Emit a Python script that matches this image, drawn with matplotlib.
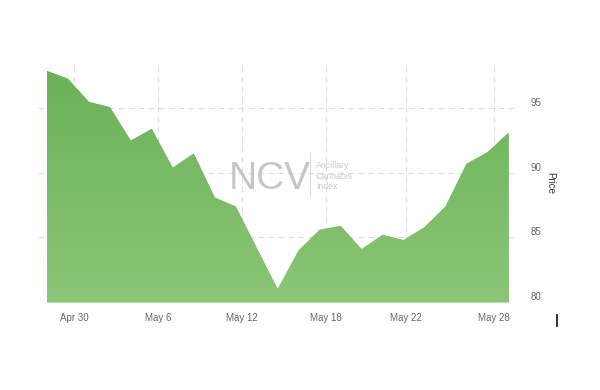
import numpy as np
import matplotlib.pyplot as plt
from matplotlib.colors import LinearSegmentedColormap
from matplotlib.lines import Line2D

plt.rcParams['font.family'] = ['Liberation Sans', 'DejaVu Sans']

# daily price of the index
price = [97.9, 97.3, 95.5, 95.1, 92.5, 93.4, 90.4, 91.5, 88.1, 87.4, 84.2, 81.0,
         84.0, 85.6, 85.9, 84.1, 85.2, 84.8, 85.8, 87.4, 90.7, 91.6, 93.1]
date_tick_pos = [1.3, 5.3, 9.3, 13.3, 17.13, 21.3]
date_labels = ["Apr 30", "May 6", "May 12", "May 18", "May 22", "May 28"]
price_ticks = [80, 85, 90, 95]

x = np.arange(len(price))

fig = plt.figure(figsize=(6, 3.9), dpi=100)
ax = fig.add_axes([0.0633, 0.2256, 0.80, 0.6129])

# area with a soft vertical gradient
area = ax.fill_between(x, price, 80, color='#79b865', lw=0, zorder=2)
grad = np.linspace(0, 1, 256).reshape(-1, 1)
cmap = LinearSegmentedColormap.from_list('g', ['#8ac676', '#6cb159'])
img = ax.imshow(grad, extent=[x[0], x[-1], 80, max(price)], origin='lower',
                cmap=cmap, aspect='auto', zorder=3)
img.set_clip_path(area.get_paths()[0], transform=ax.transData)

ax.set_xlim(-0.415, 22.46)
ax.set_ylim(80, 98.5)

ax.set_xticks(date_tick_pos)
ax.set_xticklabels(date_labels)
ax.set_yticks(price_ticks)
ax.yaxis.tick_right()
ax.tick_params(axis='both', length=0, labelsize=7, colors='#666666')
ax.tick_params(axis='x', pad=8)
ax.tick_params(axis='y', pad=9)
for lab in ax.get_yticklabels():
    lab.set_va('bottom')

ax.yaxis.set_label_position('right')
ax.set_ylabel("Price", rotation=270, fontsize=7, color='#333333', labelpad=10)

ax.grid(color='#dcdcdc', ls=(0, (5, 4)), lw=0.8, zorder=0)
ax.set_axisbelow(True)
for s in ax.spines.values():
    s.set_visible(False)

# watermark
ax.text(0.483, 0.515, "NCV", transform=ax.transAxes, ha='center', va='center',
        fontsize=28, color='#c6c6c6', zorder=5)
ax.add_line(Line2D([0.567, 0.567], [0.448, 0.623], transform=ax.transAxes,
                   color='#dddddd', lw=0.8, zorder=5))
ax.text(0.579, 0.527, "Ancillary\nCannabis\nIndex", transform=ax.transAxes,
        ha='left', va='center', fontsize=6.3, color='#c8c8c8', linespacing=1.15, zorder=5)

fig.add_artist(Line2D([0.928, 0.928], [0.165, 0.193], color='#222222', lw=1.3))

fig.savefig("out.png", dpi=100)
